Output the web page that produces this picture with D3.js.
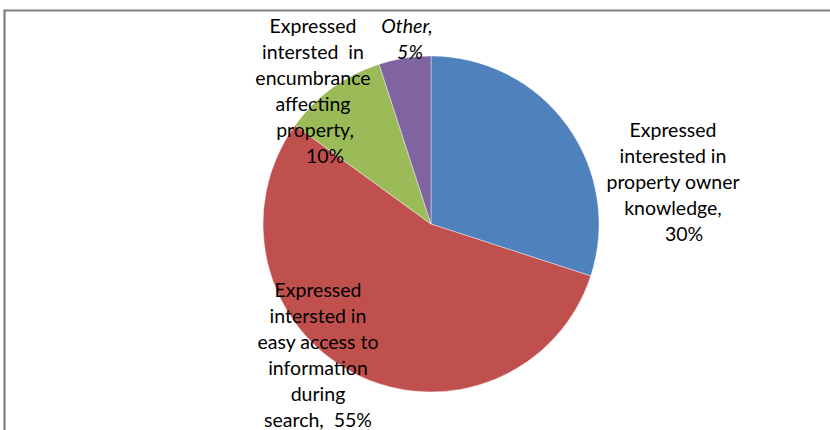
<!DOCTYPE html>
<html>
<head>
<meta charset="utf-8">
<script src="https://cdn.jsdelivr.net/npm/d3@7"></script>
<style>
  html, body { margin: 0; padding: 0; background: #fff; }
  svg { display: block; }
  text { font-family: Lato, "Open Sans", sans-serif; fill: #000; }
</style>
</head>
<body>
<svg id="chart" width="830" height="430"></svg>
<script>
// Survey responses, share of respondents (%)
const categories = [
  "Expressed interested in property owner knowledge",
  "Expressed intersted in easy access to information during search",
  "Expressed intersted in encumbrance affecting property",
  "Other"
];
const values = [30, 55, 10, 5];
const colors = ["#4F81BD", "#C0504D", "#9BBB59", "#8064A2"];

// Wrapped label lines for each slice (last line carries the value)
const labelLines = [
  ["Expressed", "interested in", "property owner", "knowledge,", values[0] + "%"],
  ["Expressed", "intersted in", "easy access to", "information", "during", "search,\u00a0 " + values[1] + "%"],
  ["Expressed", "intersted\u00a0 in", "encumbrance", "affecting", "property,", values[2] + "%"],
  ["Other,", values[3] + "%"]
];

// Label placement: centre x, first baseline y, per-line x nudges
const labelLayout = [
  { x: 673, y: 137, nudge: [0, 0, 0, 0, 11], italic: false },
  { x: 318, y: 297, nudge: [0, 0, 0, 0, 0, 0], italic: false },
  { x: 313, y: 33, nudge: [0, 0, 0, 0, 2, 12], italic: false },
  { x: 407, y: 33, nudge: [0, 3], italic: true }
];
const lineHeight = 26;
const fontSize = 19.5;

const svg = d3.select("#chart");

// Chart area frame (open at right and bottom edges)
svg.append("path")
  .attr("d", "M4.5,432 L4.5,10.5 L832,10.5")
  .attr("fill", "none")
  .attr("stroke", "#7f7f7f")
  .attr("stroke-width", 2.2);

const cx = 431, cy = 224, radius = 168;

const pie = d3.pie().sort(null).value(d => d);
const arc = d3.arc().innerRadius(0).outerRadius(radius);

const g = svg.append("g").attr("transform", `translate(${cx},${cy})`);

g.selectAll("path.slice")
  .data(pie(values))
  .join("path")
  .attr("class", "slice")
  .attr("d", arc)
  .attr("fill", (d, i) => colors[i])
  .attr("stroke", "#ffffff")
  .attr("stroke-opacity", 0.5)
  .attr("stroke-width", 0.8);

// Data labels
labelLines.forEach((lines, i) => {
  const L = labelLayout[i];
  const t = svg.append("text")
    .attr("text-anchor", "middle")
    .attr("font-size", fontSize)
    .attr("font-style", L.italic ? "italic" : "normal");
  lines.forEach((line, j) => {
    t.append("tspan")
      .attr("x", L.x + (L.nudge[j] || 0))
      .attr("y", L.y + j * lineHeight)
      .text(line);
  });
});
</script>
</body>
</html>
